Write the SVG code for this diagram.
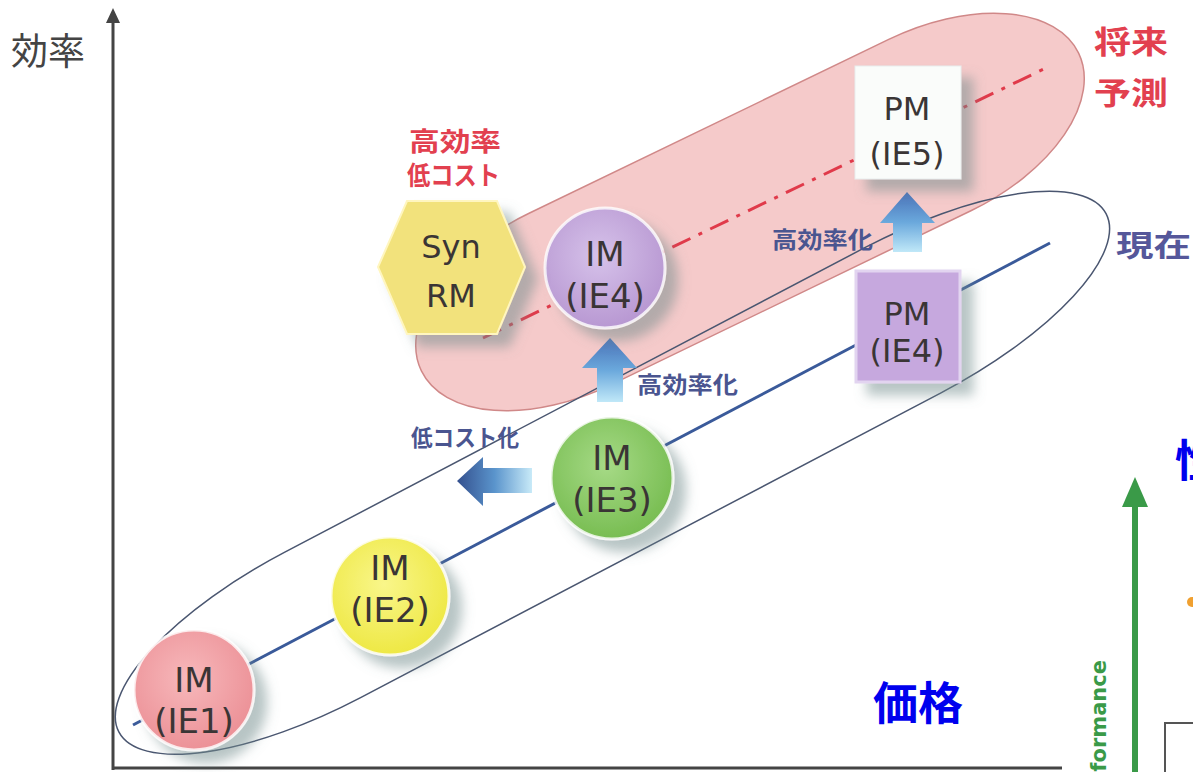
<svg xmlns="http://www.w3.org/2000/svg" width="1193" height="772" viewBox="0 0 1193 772">
<defs>
<style>
.jp{font-family:"Noto Sans CJK JP","Noto Sans",sans-serif;}
.b{font-weight:700}
.node{font-family:"DejaVu Sans","Noto Sans",sans-serif;fill:#3a3535;text-anchor:middle;font-size:34px}
.ax{stroke:#444;stroke-width:3;fill:none}
.red{fill:#e2404f}
.slate{fill:#4a5590}
.circ{stroke:#ffffff;stroke-opacity:0.8;stroke-width:3;filter:url(#sh)}
</style>
<radialGradient id="g1" cx="45%" cy="40%" r="60%"><stop offset="0" stop-color="#f7b8bb"/><stop offset="1" stop-color="#ec9197"/></radialGradient>
<radialGradient id="g2" cx="45%" cy="40%" r="60%"><stop offset="0" stop-color="#f9f68a"/><stop offset="1" stop-color="#eee844"/></radialGradient>
<radialGradient id="g3" cx="45%" cy="40%" r="60%"><stop offset="0" stop-color="#a6da86"/><stop offset="1" stop-color="#78bd52"/></radialGradient>
<radialGradient id="g4" cx="45%" cy="40%" r="60%"><stop offset="0" stop-color="#d6c2ea"/><stop offset="1" stop-color="#b898d2"/></radialGradient>
<filter id="sh" x="-40%" y="-40%" width="190%" height="190%"><feDropShadow dx="12" dy="12" stdDeviation="6" flood-color="#6f8a8a" flood-opacity="0.5"/></filter>
<linearGradient id="au" x1="0" y1="0" x2="0" y2="1"><stop offset="0" stop-color="#4a72b8"/><stop offset="0.5" stop-color="#6aa8dc"/><stop offset="1" stop-color="#c0e8f8"/></linearGradient>
<linearGradient id="al" x1="0" y1="0" x2="1" y2="0"><stop offset="0" stop-color="#34508e"/><stop offset="0.5" stop-color="#5a94cc"/><stop offset="1" stop-color="#c8eaf8"/></linearGradient>
</defs>
<rect width="1193" height="772" fill="#ffffff"/>

<g id="regions">
<rect x="385" y="117" width="730" height="190" rx="165" ry="95" transform="rotate(-25.8 750 212)" fill="#f5caca" stroke="#d08888" stroke-width="1.5"/>
<rect x="55" y="391" width="1115" height="164" rx="230" ry="82" transform="rotate(-27.7 612 473)" fill="none" stroke="#4a5670" stroke-width="1.5"/>
</g>

<g id="axes">
<line class="ax" x1="113" y1="20" x2="113" y2="770"/>
<polygon points="113,8 106,23 120,23" fill="#444"/>
<line class="ax" x1="112" y1="768" x2="1062" y2="768"/>
</g>

<g id="connectors">
<line x1="133" y1="725" x2="1050" y2="243" stroke="#3a5a9a" stroke-width="3"/>
<line x1="483" y1="338" x2="1050" y2="66" stroke="#e03a4a" stroke-width="3" stroke-dasharray="20 9 4 9"/>
<polygon points="907,192 935,223 922,223 922,252 893,252 893,223 880,223" fill="url(#au)"/>
<polygon points="610,338 637,368 623,368 623,402 597,402 597,368 582,368" fill="url(#au)"/>
<polygon points="457,481 483,457 483,468 532,468 532,493 483,493 483,506" fill="url(#al)"/>
</g>

<g id="ie1"><circle class="circ" cx="194" cy="690" r="60" fill="url(#g1)"/><text class="node" x="194" y="692">IM</text><text class="node" x="194" y="733">(IE1)</text></g>
<g id="ie2"><circle class="circ" cx="390" cy="596" r="59" fill="url(#g2)"/><text class="node" x="390" y="580">IM</text><text class="node" x="390" y="622">(IE2)</text></g>
<g id="ie3"><circle class="circ" cx="612" cy="478" r="61" fill="url(#g3)"/><text class="node" x="612" y="470">IM</text><text class="node" x="612" y="512">(IE3)</text></g>
<g id="ie4"><circle class="circ" cx="605" cy="268" r="60" fill="url(#g4)"/><text class="node" x="605" y="266">IM</text><text class="node" x="605" y="308">(IE4)</text></g>

<g id="synrm">
<polygon points="378,267 407,201 497,201 525,267 497,334 407,334" fill="#f2e27c" stroke="#fff6c0" stroke-width="2" filter="url(#sh)"/>
<text class="node" x="451" y="258" style="font-size:32px">Syn</text><text class="node" x="451" y="307" style="font-size:32px">RM</text>
</g>

<g id="pm5">
<rect x="855" y="66" width="106" height="113" fill="#fafcfa" stroke="#e8eeee" stroke-width="1" filter="url(#sh)"/>
<text class="node" x="907" y="120" style="font-size:32px">PM</text><text class="node" x="907" y="165" style="font-size:32px">(IE5)</text>
</g>

<g id="pm4">
<rect x="856" y="271" width="104" height="111" fill="#c6a8de" stroke="#e2d4f0" stroke-width="3" filter="url(#sh)"/>
<text class="node" x="907" y="325" style="font-size:32px">PM</text><text class="node" x="907" y="362" style="font-size:32px">(IE4)</text>
</g>

<g id="labels">
<text class="jp" x="11" y="65" font-size="37" fill="#444">効率</text>
<text class="jp b red" x="409" y="151" font-size="26" textLength="92" lengthAdjust="spacingAndGlyphs">高効率</text>
<text class="jp b red" x="407" y="185" font-size="26" textLength="93" lengthAdjust="spacingAndGlyphs">低コスト</text>
<text class="jp b red" x="1094" y="53" font-size="31" textLength="74" lengthAdjust="spacingAndGlyphs">将来</text>
<text class="jp b red" x="1094" y="104" font-size="31" textLength="74" lengthAdjust="spacingAndGlyphs">予測</text>
<text class="jp b" x="1116" y="256" font-size="30" textLength="75" lengthAdjust="spacingAndGlyphs" fill="#55579a">現在</text>
<text class="jp b slate" x="772" y="248" font-size="23" textLength="101" lengthAdjust="spacingAndGlyphs">高効率化</text>
<text class="jp b slate" x="637" y="393" font-size="23" textLength="101" lengthAdjust="spacingAndGlyphs">高効率化</text>
<text class="jp b slate" x="411" y="446" font-size="23" textLength="108" lengthAdjust="spacingAndGlyphs">低コスト化</text>
<text class="jp b" x="873" y="720" font-size="45" fill="#0000ee">価格</text>
</g>

<g id="edge">
<text class="jp b" x="1175" y="477" font-size="44" fill="#0000ee">性</text>
<line x1="1135" y1="500" x2="1135" y2="772" stroke="#3a9a48" stroke-width="6"/>
<polygon points="1135,477 1148,507 1122,507" fill="#3a9a48"/>
<circle cx="1192" cy="602" r="5" fill="#f0a030"/>
<text x="1106" y="660" transform="rotate(-90 1106 660)" font-family="'DejaVu Sans','Noto Sans',sans-serif" font-size="21" font-weight="700" fill="#3a9a48" text-anchor="end">formance</text>
<rect x="1165" y="723" width="40" height="60" fill="#ffffff" stroke="#555" stroke-width="2"/>
</g>
</svg>
